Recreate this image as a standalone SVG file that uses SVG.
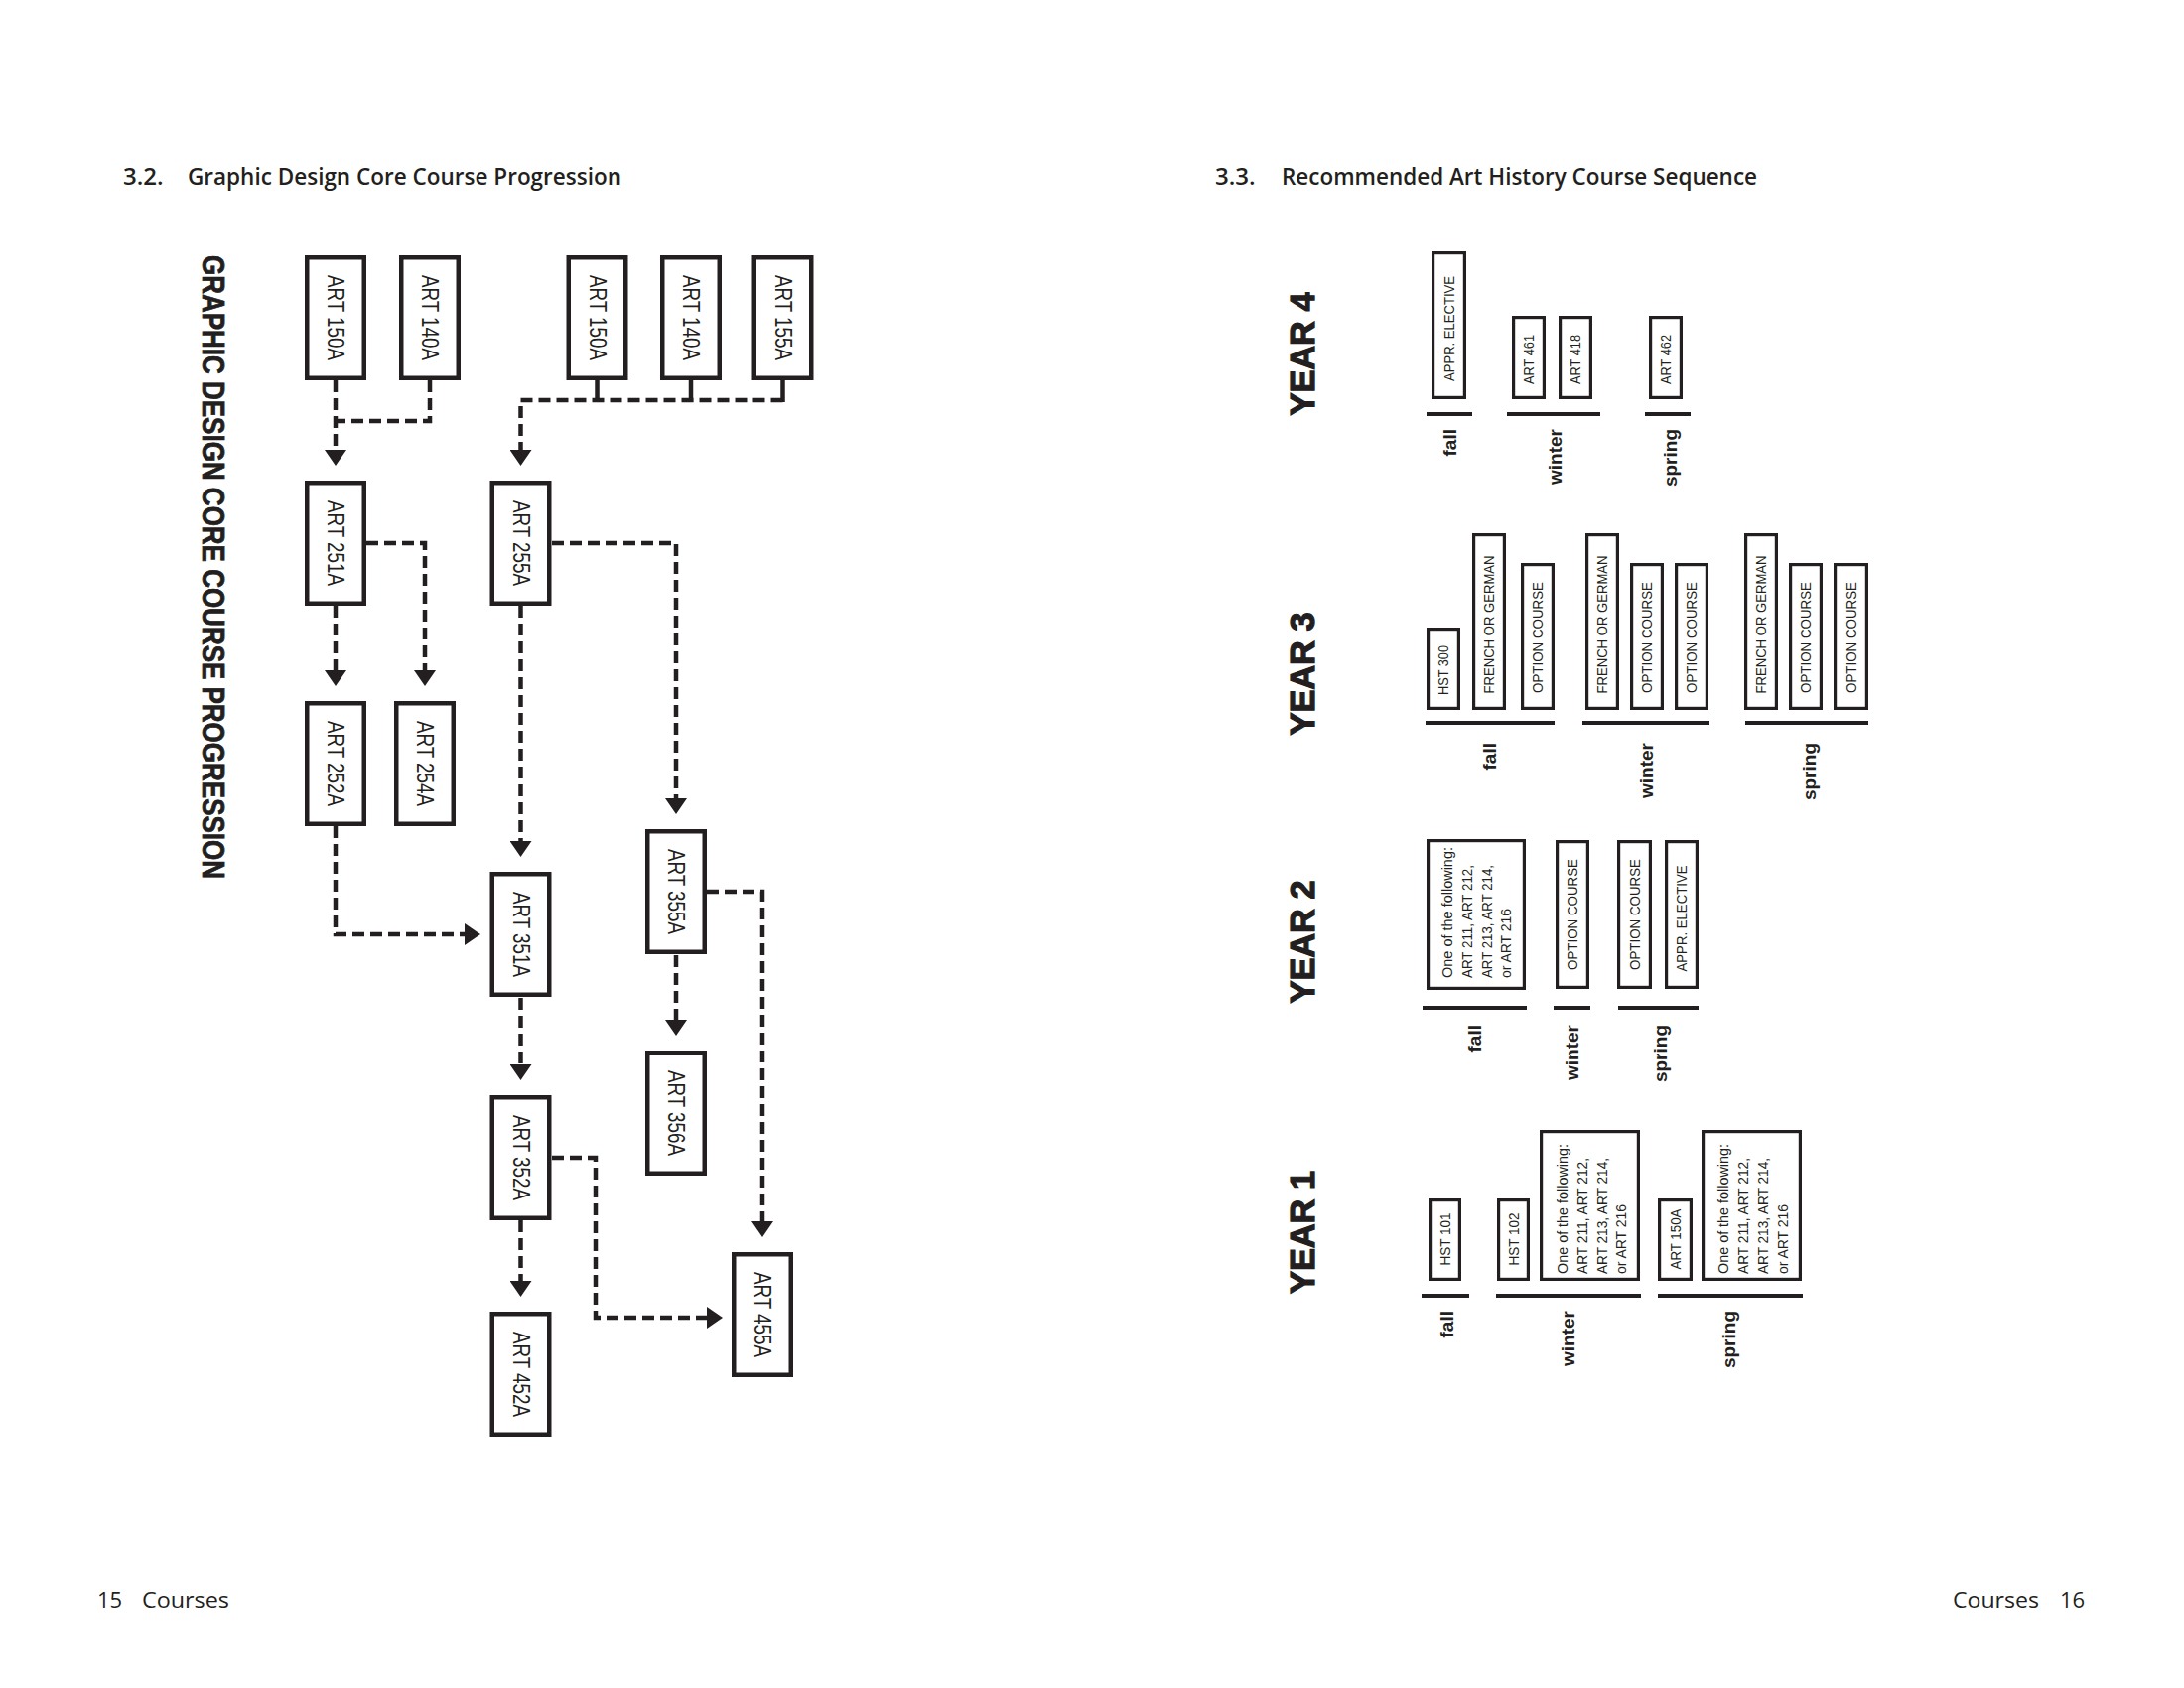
<svg xmlns="http://www.w3.org/2000/svg" width="2200" height="1700" viewBox="0 0 2200 1700">
<defs>
<style>
.h{font-family:"Open Sans","Liberation Sans",sans-serif;font-weight:600;font-size:24px;fill:#231f20}
.ft{font-family:"Open Sans","Liberation Sans",sans-serif;font-weight:400;font-size:22px;fill:#231f20}
.vt{font-family:"Liberation Sans",Arial,sans-serif;font-weight:700;font-size:31px;fill:#231f20;stroke:#231f20;stroke-width:0.8;text-anchor:middle;dominant-baseline:central}
.box{fill:#fff;stroke:#231f20;stroke-width:4.5}
.lbl{font-family:"Liberation Sans",Arial,sans-serif;font-size:23px;fill:#231f20;text-anchor:middle;dominant-baseline:central}
.rbox{fill:#fff;stroke:#231f20;stroke-width:3.2}
.rl{font-family:"Liberation Sans",Arial,sans-serif;font-size:14px;fill:#231f20;text-anchor:middle;dominant-baseline:central}
.ml{font-family:"Liberation Sans",Arial,sans-serif;font-size:14.5px;fill:#231f20}
.seas{font-family:"Liberation Sans",Arial,sans-serif;font-weight:700;font-size:19px;fill:#231f20;text-anchor:end;dominant-baseline:central}
.yr{font-family:"Liberation Sans",Arial,sans-serif;font-weight:700;font-size:35px;fill:#231f20;stroke:#231f20;stroke-width:1.2;text-anchor:middle;dominant-baseline:central}
.sl{stroke:#231f20;stroke-width:4;fill:none}
.dash{stroke:#231f20;stroke-width:4.5;fill:none;stroke-dasharray:12 6}
.solid{stroke:#231f20;stroke-width:4.5;fill:none}
.arr{marker-end:url(#ah)}
</style>
<marker id="ah" markerUnits="userSpaceOnUse" markerWidth="16" markerHeight="22" viewBox="0 0 16 22" refX="11" refY="11" orient="auto">
<path d="M0,0 L16,11 L0,22 z" fill="#231f20"/>
</marker>
</defs>
<rect width="2200" height="1700" fill="#fff"/>

<g id="titles">
<text class="h" x="124" y="186">3.2.</text>
<text class="h" x="189" y="186" textLength="437" lengthAdjust="spacingAndGlyphs">Graphic Design Core Course Progression</text>
<text class="h" x="1224" y="186">3.3.</text>
<text class="h" x="1291" y="186" textLength="479" lengthAdjust="spacingAndGlyphs">Recommended Art History Course Sequence</text>
<text class="vt" transform="translate(214,571) rotate(90)" textLength="628" lengthAdjust="spacingAndGlyphs">GRAPHIC DESIGN CORE COURSE PROGRESSION</text>
</g>

<g id="footer">
<text class="ft" x="98" y="1619">15</text>
<text class="ft" x="143" y="1619" textLength="88" lengthAdjust="spacingAndGlyphs">Courses</text>
<text class="ft" x="1967" y="1619" textLength="87" lengthAdjust="spacingAndGlyphs">Courses</text>
<text class="ft" x="2075" y="1619">16</text>
</g>

<g id="connectors">
<path class="dash arr" d="M338,383 V464"/>
<path class="dash" d="M433,383 V424 H338"/>
<path class="solid" d="M601.5,383 V405 M696,383 V405 M788.5,383 V405"/>
<path class="dash arr" d="M788.5,403 H524.5 V464"/>
<path class="dash arr" d="M369,547 H428 V686"/>
<path class="dash arr" d="M338,610 V686"/>
<path class="dash arr" d="M556,547 H681 V815"/>
<path class="dash arr" d="M524.5,610 V858"/>
<path class="dash arr" d="M338,832 V941 H479"/>
<path class="dash arr" d="M524.5,1005 V1083"/>
<path class="dash arr" d="M712,898 H768 V1241"/>
<path class="dash arr" d="M681,962 V1038"/>
<path class="dash arr" d="M556,1166 H600 V1327 H723"/>
<path class="dash arr" d="M524.5,1229 V1301"/>
</g>

<g id="gd-art150a-a"><rect class="box" x="309.25" y="259.25" width="57.5" height="121.5"/><text class="lbl" transform="translate(338,320) rotate(90)" textLength="86" lengthAdjust="spacingAndGlyphs">ART 150A</text></g>
<g id="gd-art140a-a"><rect class="box" x="404.25" y="259.25" width="57.5" height="121.5"/><text class="lbl" transform="translate(433,320) rotate(90)" textLength="86" lengthAdjust="spacingAndGlyphs">ART 140A</text></g>
<g id="gd-art150a-b"><rect class="box" x="572.75" y="259.25" width="57.5" height="121.5"/><text class="lbl" transform="translate(601.5,320) rotate(90)" textLength="86" lengthAdjust="spacingAndGlyphs">ART 150A</text></g>
<g id="gd-art140a-b"><rect class="box" x="667.25" y="259.25" width="57.5" height="121.5"/><text class="lbl" transform="translate(696,320) rotate(90)" textLength="86" lengthAdjust="spacingAndGlyphs">ART 140A</text></g>
<g id="gd-art155a"><rect class="box" x="759.75" y="259.25" width="57.5" height="121.5"/><text class="lbl" transform="translate(788.5,320) rotate(90)" textLength="86" lengthAdjust="spacingAndGlyphs">ART 155A</text></g>
<g id="gd-art251a"><rect class="box" x="309.25" y="486.25" width="57.5" height="121.5"/><text class="lbl" transform="translate(338,547) rotate(90)" textLength="86" lengthAdjust="spacingAndGlyphs">ART 251A</text></g>
<g id="gd-art255a"><rect class="box" x="495.75" y="486.25" width="57.5" height="121.5"/><text class="lbl" transform="translate(524.5,547) rotate(90)" textLength="86" lengthAdjust="spacingAndGlyphs">ART 255A</text></g>
<g id="gd-art252a"><rect class="box" x="309.25" y="708.25" width="57.5" height="121.5"/><text class="lbl" transform="translate(338,769) rotate(90)" textLength="86" lengthAdjust="spacingAndGlyphs">ART 252A</text></g>
<g id="gd-art254a"><rect class="box" x="399.25" y="708.25" width="57.5" height="121.5"/><text class="lbl" transform="translate(428,769) rotate(90)" textLength="86" lengthAdjust="spacingAndGlyphs">ART 254A</text></g>
<g id="gd-art351a"><rect class="box" x="495.75" y="880.25" width="57.5" height="121.5"/><text class="lbl" transform="translate(524.5,941) rotate(90)" textLength="86" lengthAdjust="spacingAndGlyphs">ART 351A</text></g>
<g id="gd-art355a"><rect class="box" x="652.25" y="837.25" width="57.5" height="121.5"/><text class="lbl" transform="translate(681,898) rotate(90)" textLength="86" lengthAdjust="spacingAndGlyphs">ART 355A</text></g>
<g id="gd-art352a"><rect class="box" x="495.75" y="1105.25" width="57.5" height="121.5"/><text class="lbl" transform="translate(524.5,1166) rotate(90)" textLength="86" lengthAdjust="spacingAndGlyphs">ART 352A</text></g>
<g id="gd-art356a"><rect class="box" x="652.25" y="1060.25" width="57.5" height="121.5"/><text class="lbl" transform="translate(681,1121) rotate(90)" textLength="86" lengthAdjust="spacingAndGlyphs">ART 356A</text></g>
<g id="gd-art455a"><rect class="box" x="739.25" y="1263.25" width="57.5" height="121.5"/><text class="lbl" transform="translate(768,1324) rotate(90)" textLength="86" lengthAdjust="spacingAndGlyphs">ART 455A</text></g>
<g id="gd-art452a"><rect class="box" x="495.75" y="1323.25" width="57.5" height="121.5"/><text class="lbl" transform="translate(524.5,1384) rotate(90)" textLength="86" lengthAdjust="spacingAndGlyphs">ART 452A</text></g>

<g id="year4">
<text class="yr" transform="translate(1311,356.5) rotate(-90)" textLength="124" lengthAdjust="spacingAndGlyphs">YEAR 4</text>
<g id="y4-appr"><rect class="rbox" x="1443.6" y="254.6" width="31.8" height="145.8"/><text class="rl" transform="translate(1459.5,331) rotate(-90)" textLength="106" lengthAdjust="spacingAndGlyphs">APPR. ELECTIVE</text></g>
<g id="y4-art461"><rect class="rbox" x="1524.6" y="319.6" width="30.8" height="80.8"/><text class="rl" transform="translate(1540,362) rotate(-90)" textLength="50" lengthAdjust="spacingAndGlyphs">ART 461</text></g>
<g id="y4-art418"><rect class="rbox" x="1571.6" y="319.6" width="30.8" height="80.8"/><text class="rl" transform="translate(1587,362) rotate(-90)" textLength="50" lengthAdjust="spacingAndGlyphs">ART 418</text></g>
<g id="y4-art462"><rect class="rbox" x="1662.6" y="319.6" width="30.8" height="80.8"/><text class="rl" transform="translate(1678,362) rotate(-90)" textLength="50" lengthAdjust="spacingAndGlyphs">ART 462</text></g>
<path class="sl" d="M1437,417 H1483 M1518,417 H1612 M1657,417 H1703"/>
<text class="seas" transform="translate(1460,432) rotate(-90)">fall</text>
<text class="seas" transform="translate(1566,432) rotate(-90)">winter</text>
<text class="seas" transform="translate(1682,432) rotate(-90)">spring</text>
</g>

<g id="year3">
<text class="yr" transform="translate(1311,678.5) rotate(-90)" textLength="124" lengthAdjust="spacingAndGlyphs">YEAR 3</text>
<g id="y3-hst300"><rect class="rbox" x="1438.6" y="633.6" width="30.8" height="79.8"/><text class="rl" transform="translate(1454,675) rotate(-90)" textLength="50" lengthAdjust="spacingAndGlyphs">HST 300</text></g>
<g id="y3-fog1"><rect class="rbox" x="1484.6" y="538.6" width="30.8" height="174.8"/><text class="rl" transform="translate(1500,629) rotate(-90)" textLength="139" lengthAdjust="spacingAndGlyphs">FRENCH OR GERMAN</text></g>
<g id="y3-oc1"><rect class="rbox" x="1533.6" y="568.6" width="30.8" height="144.8"/><text class="rl" transform="translate(1549,642) rotate(-90)" textLength="112" lengthAdjust="spacingAndGlyphs">OPTION COURSE</text></g>
<g id="y3-fog2"><rect class="rbox" x="1598.6" y="538.6" width="30.8" height="174.8"/><text class="rl" transform="translate(1614,629) rotate(-90)" textLength="139" lengthAdjust="spacingAndGlyphs">FRENCH OR GERMAN</text></g>
<g id="y3-oc2"><rect class="rbox" x="1643.6" y="568.6" width="30.8" height="144.8"/><text class="rl" transform="translate(1659,642) rotate(-90)" textLength="112" lengthAdjust="spacingAndGlyphs">OPTION COURSE</text></g>
<g id="y3-oc3"><rect class="rbox" x="1688.6" y="568.6" width="30.8" height="144.8"/><text class="rl" transform="translate(1704,642) rotate(-90)" textLength="112" lengthAdjust="spacingAndGlyphs">OPTION COURSE</text></g>
<g id="y3-fog3"><rect class="rbox" x="1758.6" y="538.6" width="30.8" height="174.8"/><text class="rl" transform="translate(1774,629) rotate(-90)" textLength="139" lengthAdjust="spacingAndGlyphs">FRENCH OR GERMAN</text></g>
<g id="y3-oc4"><rect class="rbox" x="1803.6" y="568.6" width="30.8" height="144.8"/><text class="rl" transform="translate(1819,642) rotate(-90)" textLength="112" lengthAdjust="spacingAndGlyphs">OPTION COURSE</text></g>
<g id="y3-oc5"><rect class="rbox" x="1848.6" y="568.6" width="31.8" height="144.8"/><text class="rl" transform="translate(1864.5,642) rotate(-90)" textLength="112" lengthAdjust="spacingAndGlyphs">OPTION COURSE</text></g>
<path class="sl" d="M1436,728 H1566 M1594,728 H1722 M1758,728 H1882"/>
<text class="seas" transform="translate(1500,748) rotate(-90)">fall</text>
<text class="seas" transform="translate(1658,748) rotate(-90)">winter</text>
<text class="seas" transform="translate(1822,748) rotate(-90)">spring</text>
</g>

<g id="year2">
<text class="yr" transform="translate(1311,948.5) rotate(-90)" textLength="124" lengthAdjust="spacingAndGlyphs">YEAR 2</text>
<g id="y2-oneof"><rect class="rbox" x="1438.6" y="846.6" width="96.8" height="148.8"/>
<text class="ml" transform="translate(1463,985) rotate(-90)" textLength="132" lengthAdjust="spacingAndGlyphs">One of the following:</text>
<text class="ml" transform="translate(1483,985) rotate(-90)" textLength="114" lengthAdjust="spacingAndGlyphs">ART 211, ART 212,</text>
<text class="ml" transform="translate(1503,985) rotate(-90)" textLength="114" lengthAdjust="spacingAndGlyphs">ART 213, ART 214,</text>
<text class="ml" transform="translate(1522,985) rotate(-90)" textLength="70" lengthAdjust="spacingAndGlyphs">or ART 216</text></g>
<g id="y2-oc1"><rect class="rbox" x="1568.6" y="847.6" width="30.8" height="146.8"/><text class="rl" transform="translate(1584,921) rotate(-90)" textLength="112" lengthAdjust="spacingAndGlyphs">OPTION COURSE</text></g>
<g id="y2-oc2"><rect class="rbox" x="1630.6" y="847.6" width="31.8" height="146.8"/><text class="rl" transform="translate(1646.5,921) rotate(-90)" textLength="112" lengthAdjust="spacingAndGlyphs">OPTION COURSE</text></g>
<g id="y2-appr"><rect class="rbox" x="1678.6" y="847.6" width="30.8" height="146.8"/><text class="rl" transform="translate(1694,925) rotate(-90)" textLength="107" lengthAdjust="spacingAndGlyphs">APPR. ELECTIVE</text></g>
<path class="sl" d="M1433,1015 H1538 M1565,1015 H1602 M1630,1015 H1711"/>
<text class="seas" transform="translate(1485,1032) rotate(-90)">fall</text>
<text class="seas" transform="translate(1583,1032) rotate(-90)">winter</text>
<text class="seas" transform="translate(1672,1032) rotate(-90)">spring</text>
</g>

<g id="year1">
<text class="yr" transform="translate(1311,1241) rotate(-90)" textLength="124" lengthAdjust="spacingAndGlyphs">YEAR 1</text>
<g id="y1-hst101"><rect class="rbox" x="1440.6" y="1208.6" width="29.8" height="79.8"/><text class="rl" transform="translate(1455.5,1248) rotate(-90)" textLength="53" lengthAdjust="spacingAndGlyphs">HST 101</text></g>
<g id="y1-hst102"><rect class="rbox" x="1509.6" y="1208.6" width="29.8" height="79.8"/><text class="rl" transform="translate(1524.5,1248) rotate(-90)" textLength="53" lengthAdjust="spacingAndGlyphs">HST 102</text></g>
<g id="y1-oneof1"><rect class="rbox" x="1552.6" y="1139.6" width="97.8" height="148.8"/>
<text class="ml" transform="translate(1579,1283) rotate(-90)" textLength="131" lengthAdjust="spacingAndGlyphs">One of the following:</text>
<text class="ml" transform="translate(1599,1283) rotate(-90)" textLength="117" lengthAdjust="spacingAndGlyphs">ART 211, ART 212,</text>
<text class="ml" transform="translate(1619,1283) rotate(-90)" textLength="117" lengthAdjust="spacingAndGlyphs">ART 213, ART 214,</text>
<text class="ml" transform="translate(1638,1283) rotate(-90)" textLength="70" lengthAdjust="spacingAndGlyphs">or ART 216</text></g>
<g id="y1-art150a"><rect class="rbox" x="1671.6" y="1208.6" width="31.8" height="79.8"/><text class="rl" transform="translate(1687.5,1248) rotate(-90)" textLength="61" lengthAdjust="spacingAndGlyphs">ART 150A</text></g>
<g id="y1-oneof2"><rect class="rbox" x="1715.6" y="1139.6" width="97.8" height="148.8"/>
<text class="ml" transform="translate(1741,1283) rotate(-90)" textLength="131" lengthAdjust="spacingAndGlyphs">One of the following:</text>
<text class="ml" transform="translate(1761,1283) rotate(-90)" textLength="117" lengthAdjust="spacingAndGlyphs">ART 211, ART 212,</text>
<text class="ml" transform="translate(1781,1283) rotate(-90)" textLength="117" lengthAdjust="spacingAndGlyphs">ART 213, ART 214,</text>
<text class="ml" transform="translate(1801,1283) rotate(-90)" textLength="70" lengthAdjust="spacingAndGlyphs">or ART 216</text></g>
<path class="sl" d="M1432,1305 H1480 M1507,1305 H1653 M1670,1305 H1816"/>
<text class="seas" transform="translate(1457,1320) rotate(-90)">fall</text>
<text class="seas" transform="translate(1579,1320) rotate(-90)">winter</text>
<text class="seas" transform="translate(1741,1320) rotate(-90)">spring</text>
</g>
</svg>
